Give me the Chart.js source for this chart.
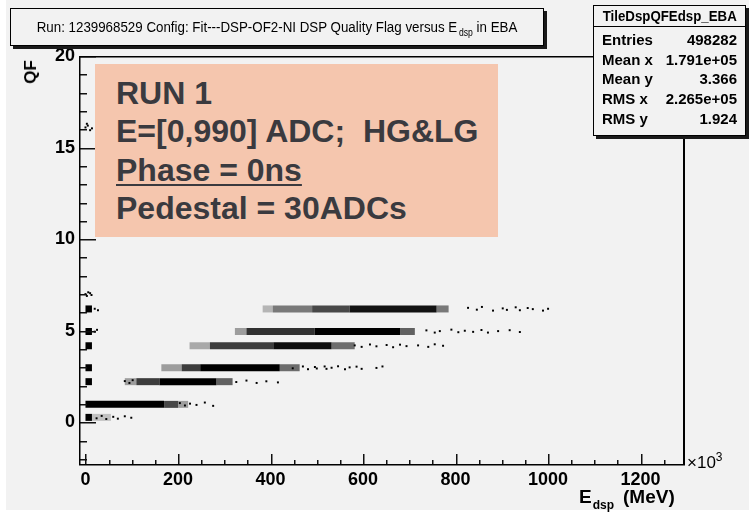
<!DOCTYPE html>
<html>
<head>
<meta charset="utf-8">
<script src="https://cdn.jsdelivr.net/npm/chart.js@4.4.1/dist/chart.umd.min.js"></script>
<style>
  body { margin: 0; background: #fff; }
  #wrap { position: relative; width: 749px; height: 513px; overflow: hidden; font-family: "Liberation Sans", Arial, sans-serif; }
  #bg { position: absolute; left: 6px; top: 0; width: 743px; height: 510px; background: #f2f2f2; }
  canvas { position: absolute; left: 0; top: 0; }
  .pave { position: absolute; background: #f2f2f2; border: 1px solid #000; box-shadow: 3px 3px 0 #1a1a1a; box-sizing: border-box; }
  #title { left: 10px; top: 8px; width: 534px; height: 38px; font-size: 15.5px; line-height: 36px; white-space: nowrap; }
  #title span.t { position: absolute; left: 50%; top: 0; transform: translateX(-50%) scaleX(0.86); }
  #stats { left: 593px; top: 5px; width: 153px; height: 131px; font-weight: bold; font-size: 15px; }
  #stats .hd { height: 20px; line-height: 20px; border-bottom: 1px solid #000; text-align: center; }
  #stats .hd span { display: inline-block; transform: scaleX(0.885); }
  #stats .rows { padding: 3px 8px 0 8px; }
  #stats .row { display: flex; justify-content: space-between; height: 19.7px; line-height: 19.7px; }
  #note { position: absolute; left: 95px; top: 64px; width: 403px; height: 173px; background: #f5c6ae; }
  #note .txt { position: absolute; left: 21px; top: 10px; color: #3a3a3f; font-weight: bold; font-size: 32px; line-height: 38.3px; white-space: nowrap; }
  #note u { text-decoration-thickness: 2px; text-underline-offset: 3px; }
  #ytitle { position: absolute; left: 31px; top: 72px; font-weight: bold; font-size: 17px; transform: translate(-50%, -50%) rotate(-90deg); }
  #xtitle { position: absolute; left: 579px; top: 486px; font-weight: bold; font-size: 19px; white-space: nowrap; }
  #xtitle sub { font-size: 12px; vertical-align: -6px; margin-left: 1px; margin-right: 9px; }
  #xexp { position: absolute; left: 687px; top: 450px; font-size: 17px; white-space: nowrap; }
  #xexp sup { font-size: 12px; vertical-align: 7px; }
</style>
</head>
<body>
<div id="wrap">
  <div id="bg"></div>
  <canvas id="qfChart" width="749" height="513"></canvas>
  <div class="pave" id="title"><span class="t">Run: 1239968529 Config: Fit---DSP-OF2-NI DSP Quality Flag versus E<sub style="font-size:10px;vertical-align:-4px;margin-left:2px">dsp</sub> in EBA</span></div>
  <div class="pave" id="stats">
    <div class="hd"><span>TileDspQFEdsp_EBA</span></div>
    <div class="rows">
      <div class="row"><span>Entries</span><span>498282</span></div>
      <div class="row"><span>Mean x</span><span>1.791e+05</span></div>
      <div class="row"><span>Mean y</span><span>3.366</span></div>
      <div class="row"><span>RMS x</span><span>2.265e+05</span></div>
      <div class="row"><span>RMS y</span><span>1.924</span></div>
    </div>
  </div>
  <div id="note">
    <div class="txt">RUN 1<br>E=[0,990] ADC;&nbsp; HG&amp;LG<br><u>Phase = 0ns</u><br>Pedestal = 30ADCs</div>
  </div>
  <div id="ytitle">QF</div>
  <div id="xtitle">E<sub>dsp</sub>(MeV)</div>
  <div id="xexp">&times;10<sup>3</sup></div>
</div>
<script>
// E_dsp in units of 10^3 MeV, QF on the y axis
const xTicks = [0, 200, 400, 600, 800, 1000, 1200];
const yTicks = [0, 5, 10, 15, 20];

// QF levels where the populated bands sit
const qfLevels = [0.27, 0.98, 2.22, 2.98, 4.18, 4.96, 6.19];

// per level: [from E, to E, ink density]
const bandPieces = [
    [[0, 14, 1], [14, 55, 0.2]],
    [[0, 170, 1], [170, 200, 0.7], [200, 222, 0.35]],
    [[0, 14, 1], [85, 110, 0.35], [110, 160, 0.75], [160, 283, 1], [283, 318, 0.6]],
    [[0, 14, 1], [164, 208, 0.35], [208, 248, 0.75], [248, 420, 1], [420, 463, 0.55]],
    [[0, 14, 1], [225, 269, 0.3], [269, 406, 0.75], [406, 532, 0.95], [532, 582, 0.55]],
    [[0, 14, 1], [323, 348, 0.35], [348, 495, 0.8], [495, 680, 1], [680, 712, 0.6]],
    [[0, 14, 1], [383, 405, 0.25], [405, 490, 0.5], [490, 571, 0.7], [571, 759, 0.92], [759, 785, 0.5]],
];

// isolated entries
const sparseE = [
    24, 35, 45, 60, 70, 85, 99,
    204, 215, 226, 240, 258, 276,
    85, 95, 102, 326, 348, 370, 391, 416,
    448, 470, 481, 496, 500, 517, 521, 532, 546, 561, 571, 586, 597, 629, 642,
    582, 597, 615, 629, 651, 665, 680, 694, 719, 741, 755, 773,
    20, 25, 737, 755, 766, 791, 806, 820, 838, 856, 870, 892, 917, 939,
    20, 27, 827, 846, 857, 881, 902, 911, 930, 939, 956, 967, 989, 1000,
    0, 6, 13, 3, 10,
    0, 5, 10, 14, 3,
];
const sparseQF = [
    0.22, 0.35, 0.18, 0.3, 0.2, 0.33, 0.25,
    1.05, 0.92, 1.02, 0.95, 1.08, 0.9,
    2.25, 2.15, 2.3, 2.2, 2.28, 2.15, 2.24, 2.18,
    2.95, 3.05, 2.9, 3.02, 2.94, 3.05, 2.92, 2.98, 3.06, 2.9, 3.0, 3.04, 2.92, 2.97, 3.05,
    4.2, 4.12, 4.25, 4.15, 4.22, 4.1, 4.24, 4.16, 4.2, 4.12, 4.26, 4.18,
    4.95, 5.05, 5.02, 4.9, 4.98, 5.06, 4.92, 5.0, 4.94, 5.04, 4.9, 4.98, 5.03, 4.93,
    6.2, 6.12, 6.25, 6.15, 6.3, 6.1, 6.22, 6.14, 6.28, 6.12, 6.24, 6.18, 6.1, 6.2,
    7.0, 7.1, 6.95, 6.9, 7.05,
    16.1, 16.2, 15.95, 16.05, 16.3,
];

const bandSets = [];
bandPieces.forEach((pieces, i) => {
    pieces.forEach(([from, to, ink]) => {
        bandSets.push({
            data: [{ x: from, y: qfLevels[i] }, { x: to, y: qfLevels[i] }],
            showLine: true,
            borderColor: `rgba(0, 0, 0, ${ink})`,
            borderWidth: 7,
            borderCapStyle: 'butt',
            pointRadius: 0,
        });
    });
});

// ROOT style frame with ticks pointing inwards
const rootFrame = {
    id: 'rootFrame',
    afterDraw(chart) {
        const ctx = chart.ctx;
        const a = chart.chartArea;
        const xs = chart.scales.x;
        const ys = chart.scales.y;
        ctx.save();
        ctx.fillStyle = '#111';
        for (let v = 0; v <= 1290; v += 50) {
            const px = Math.round(xs.getPixelForValue(v));
            const len = v % 200 === 0 ? 11 : 5;
            ctx.fillRect(px, a.bottom - len, 1.5, len);
        }
        for (let v = -2; v <= 20; v += 1) {
            const py = Math.round(ys.getPixelForValue(v));
            const len = v % 5 === 0 ? 17 : 8;
            ctx.fillRect(a.left, py, len, 1.5);
        }
        ctx.fillStyle = '#000';
        ctx.fillRect(a.left, a.top, a.right - a.left, 1.5);
        ctx.fillRect(a.left, a.bottom - 1, a.right - a.left, 1.5);
        ctx.fillRect(a.left, a.top, 1.5, a.bottom - a.top);
        ctx.fillRect(a.right - 2, a.top, 2, a.bottom - a.top);
        ctx.restore();
    },
};

new Chart(document.getElementById('qfChart'), {
    type: 'scatter',
    data: {
        datasets: [
            ...bandSets,
            {
                data: sparseE.map((e, i) => ({ x: e, y: sparseQF[i] })),
                pointStyle: 'rect',
                pointRadius: 1.4,
                borderWidth: 0,
                backgroundColor: '#000',
            },
        ],
    },
    options: {
        responsive: false,
        animation: false,
        devicePixelRatio: 1,
        layout: {
            padding: { left: 0, right: 64, top: 56, bottom: 0 },
        },
        plugins: {
            legend: { display: false },
            tooltip: { enabled: false },
        },
        scales: {
            x: {
                type: 'linear',
                min: -14,
                max: 1296,
                afterFit: (s) => { s.height = 48; },
                afterBuildTicks: (s) => { s.ticks = xTicks.map((v) => ({ value: v })); },
                grid: { display: false, drawTicks: false },
                border: { display: false },
                ticks: {
                    color: '#000',
                    padding: 4,
                    maxRotation: 0,
                    autoSkip: false,
                    callback: (v) => String(v),
                    font: { family: 'Liberation Sans', size: 18, weight: 'bold' },
                },
            },
            y: {
                type: 'linear',
                min: -2.33,
                max: 20,
                afterFit: (s) => { s.width = 79; },
                afterBuildTicks: (s) => { s.ticks = yTicks.map((v) => ({ value: v })); },
                grid: { display: false, drawTicks: false },
                border: { display: false },
                ticks: {
                    color: '#000',
                    padding: 4,
                    autoSkip: false,
                    callback: (v) => String(v),
                    font: { family: 'Liberation Sans', size: 18, weight: 'bold' },
                },
            },
        },
    },
    plugins: [rootFrame],
});
</script>
</body>
</html>
